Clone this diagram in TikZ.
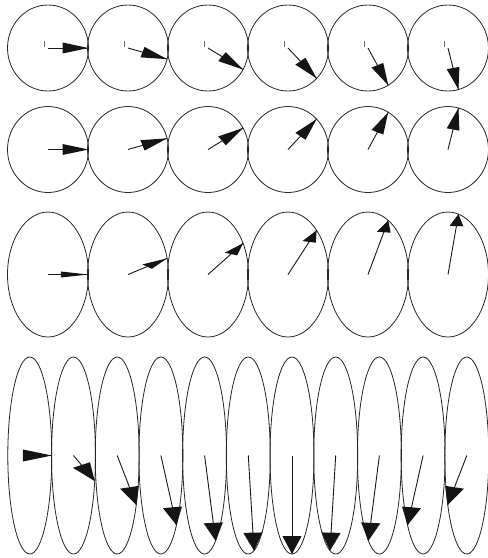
\documentclass[tikz,border=0pt]{standalone}
\usetikzlibrary{calc}
\tikzset{
  ellline/.style={draw=black!85, line width=0.8pt},
  shaft/.style={draw=black!90, line width=0.9pt},
  headfill/.style={fill=black!92, draw=none},
  tickline/.style={draw=black!55, line width=0.7pt},
}
% #1 cx, #2 cy, #3 rx, #4 ry, #5 phi, #6 head length, #7 head width, #8 x-stretch of head
\newcommand\myvec[8]{%
  \pgfmathsetmacro\dxx{#3*cos(#5)}%
  \pgfmathsetmacro\dyy{#4*sin(#5)}%
  \pgfmathsetmacro\tx{#1+\dxx}%
  \pgfmathsetmacro\ty{#2+\dyy}%
  \pgfmathsetmacro\uxa{\dxx/#8}%
  \pgfmathsetmacro\un{sqrt(\uxa*\uxa+\dyy*\dyy)}%
  \pgfmathsetmacro\ux{\uxa/\un}%
  \pgfmathsetmacro\uy{\dyy/\un}%
  \pgfmathsetmacro\bx{-#6*#8*\ux}%
  \pgfmathsetmacro\by{-#6*\uy}%
  \pgfmathsetmacro\px{-0.5*#7*#8*\uy}%
  \pgfmathsetmacro\py{0.5*#7*\ux}%
  \coordinate (ctr) at (#1,#2);
  \coordinate (tip) at (\tx,\ty);
  \draw[ellline] (ctr) ellipse [x radius=#3, y radius=#4];
  \draw[shaft] (ctr) -- (tip);
  \fill[headfill] (tip) -- ($(tip)+(\bx,\by)+(\px,\py)$) -- ($(tip)+(\bx,\by)-(\px,\py)$) -- cycle;
}
\begin{document}
\begin{tikzpicture}[x=1pt,y=-1pt]
\useasboundingbox (0,0) rectangle (488,558);
\fill[white] (0,0) rectangle (488,558);
% row 1
\foreach \k in {0,...,5}{
  \pgfmathsetmacro\cx{48+80*\k}
  \pgfmathsetmacro\ph{15*\k}
  \myvec{\cx}{48}{40.5}{43}{\ph}{22}{11}{1.18}
  \coordinate (tka) at (\cx-4,40.5);
  \coordinate (tkb) at (\cx-4,47);
  \draw[tickline] (tka) -- (tkb);
}
% row 2
\foreach \k in {0,...,5}{
  \pgfmathsetmacro\cx{48+80*\k}
  \pgfmathsetmacro\ph{-15*\k}
  \myvec{\cx}{149.5}{40.5}{43}{\ph}{22}{11}{1.18}
}
% row 3
\foreach \k in {0,...,5}{
  \pgfmathsetmacro\cx{48+80*\k}
  \pgfmathsetmacro\ph{-15*\k}
  \myvec{\cx}{274.5}{40.5}{62.5}{\ph}{12}{6}{2.3}
}
% row 4
\foreach \k in {0,...,10}{
  \pgfmathsetmacro\cx{29.8+43.7*\k}
  \pgfmathsetmacro\ph{15*\k}
  \myvec{\cx}{455.5}{22}{98.5}{\ph}{18}{12}{1.6}
}
\end{tikzpicture}
\end{document}
